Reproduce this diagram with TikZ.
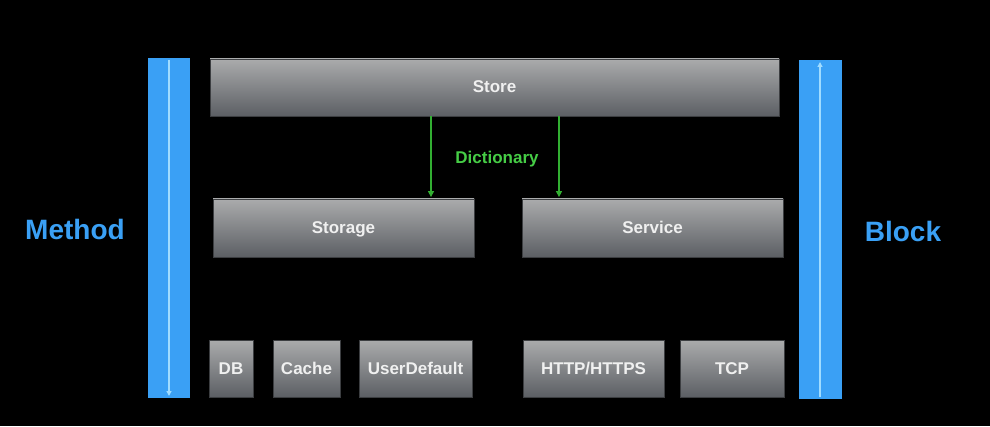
\documentclass[tikz,border=0pt]{standalone}
\usepackage{fontspec}
\setmainfont{Liberation Sans}
\usetikzlibrary{arrows.meta}
\definecolor{barblue}{RGB}{58,160,245}
\definecolor{barline}{RGB}{160,220,255}
\definecolor{arrgreen}{RGB}{50,175,50}
\definecolor{txtgreen}{RGB}{70,205,70}
\definecolor{boxtop}{RGB}{170,171,172}
\definecolor{boxbot}{RGB}{92,95,100}
\definecolor{boxedge}{RGB}{60,62,65}
\definecolor{boxtext}{RGB}{240,240,240}
\begin{document}
\begin{tikzpicture}[x=1pt,y=1pt,
  box/.style={draw=boxedge, line width=0.8pt, top color=boxtop, bottom color=boxbot,
    inner sep=0pt, text=boxtext, font=\fontsize{17}{20}\selectfont\bfseries,
    text height=12.5pt, text depth=1.5pt},
  bar/.style={fill=barblue, draw=none, inner sep=0pt},
  barlink/.style={draw=barline, line width=1.3pt, -{Triangle[length=5pt,width=5pt]}},
  dict/.style={draw=arrgreen, line width=1.3pt, -{Triangle[length=6pt,width=6pt]}},
  side/.style={text=barblue, font=\fontsize{28}{32}\selectfont\bfseries}]
\fill[black] (0,0) rectangle (990,426);
\useasboundingbox (0,0) rectangle (990,426);
% side bars
\node[bar, minimum width=42pt, minimum height=340pt] (lbar) at (169,198) {};
\node[bar, minimum width=43pt, minimum height=339pt] (rbar) at (820.5,196.5) {};
\coordinate (ltop) at (169,366);
\coordinate (lbot) at (169,30);
\coordinate (rbot) at (820,29);
\coordinate (rtop) at (820,364);
\draw[barlink] (ltop) -- (lbot);
\draw[barlink] (rbot) -- (rtop);
% labels
\node[side] (method) at (75,197) {Method};
\node[side] (block) at (903,195) {Block};
% boxes
\node[box, minimum width=569pt, minimum height=57pt] (store) at (494.5,338.5) {Store};
\node[box, minimum width=261pt, minimum height=58pt] (storage) at (343.5,198) {Storage};
\node[box, minimum width=261pt, minimum height=58pt] (service) at (652.5,198) {Service};
\node[box, minimum width=44pt, minimum height=57pt] (db) at (231,57.5) {DB};
\node[box, minimum width=67pt, minimum height=57pt] (cache) at (306.5,57.5) {Cache};
\node[box, minimum width=113pt, minimum height=57pt] (userdef) at (415.5,57.5) {UserDefault};
\node[box, minimum width=141pt, minimum height=57pt] (http) at (593.5,57.5) {HTTP/HTTPS};
\node[box, minimum width=104pt, minimum height=57pt] (tcp) at (732,57.5) {TCP};
% dictionary arrows
\coordinate (xa) at (431,0);
\coordinate (xb) at (559,0);
\draw[dict] (store.south -| xa) -- ([yshift=1.5pt]storage.north -| xa);
\draw[dict] (store.south -| xb) -- ([yshift=1.5pt]service.north -| xb);
\node[text=txtgreen, font=\fontsize{17}{20}\selectfont\bfseries] (dict) at (497,267) {Dictionary};
\end{tikzpicture}
\end{document}
